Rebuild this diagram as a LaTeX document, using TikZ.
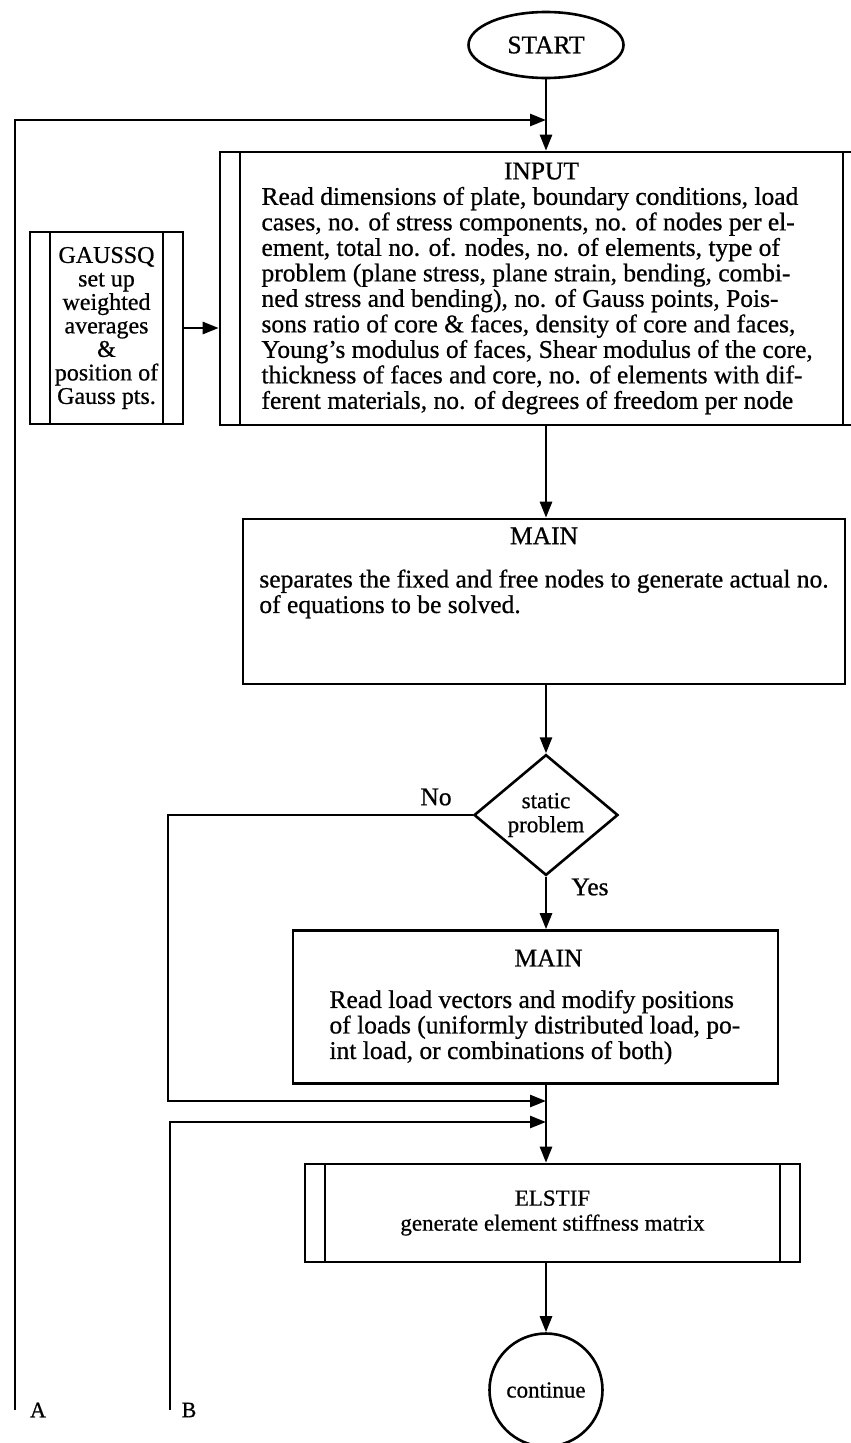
\documentclass[tikz,border=0pt]{standalone}
\usepackage{fontspec}
\setmainfont[FakeBold=0.7]{Liberation Serif}
\usetikzlibrary{shapes.geometric,arrows.meta,positioning}

\begin{document}
\begin{tikzpicture}[->,>={Triangle[length=16pt,width=12pt]},x=1pt,y=-1pt,
		line width=2.6pt,font=\fontsize{25.5}{25.5}\selectfont,
		end node/.style={ellipse,draw,inner sep=0pt},
		proc box/.style={rectangle,draw,inner sep=0pt,align=left},
		sub box/.style={proc box,path picture={
				\draw[-] ([xshift=20pt]path picture bounding box.north west) -- ([xshift=20pt]path picture bounding box.south west)
				([xshift=-20pt]path picture bounding box.north east) -- ([xshift=-20pt]path picture bounding box.south east);}},
		decision/.style={diamond,draw,inner sep=0pt,align=center,font=\fontsize{23}{24}\selectfont}]

		\useasboundingbox (0,0) rectangle (851,1443);

		\node[end node, minimum width=155pt, minimum height=66pt] (start) at (546,45) {START};
		\node[sub box, minimum width=643pt, minimum height=273pt] (input) at (541.5,288.5) {\makebox[560pt]{INPUT}\\
			Read dimensions of plate, boundary conditions, load\\
			cases, no. of stress components, no. of nodes per el-\\
			ement, total no. of. nodes, no. of elements, type of\\
			problem (plane stress, plane strain, bending, combi-\\
			ned stress and bending), no. of Gauss points, Pois-\\
			sons ratio of core \& faces, density of core and faces,\\
			Young's modulus of faces, Shear modulus of the core,\\
			thickness of faces and core, no. of elements with dif-\\
			ferent materials, no. of degrees of freedom per node};
		\node[sub box, align=center, minimum width=153pt, minimum height=192pt,
			font=\fontsize{24}{23.5}\selectfont] (gauss) at (106.5,328) {GAUSSQ\\ set up\\ weighted\\ averages\\ \&\\ position of\\ Gauss pts.};
		\node[proc box, minimum width=602pt, minimum height=165pt,
			label={[anchor=north,yshift=-5pt]north:MAIN}] (main1) at (544,601.5) {separates the fixed and free nodes to generate actual no.\\
			of equations to be solved.\\[-5pt]\mbox{}};
		\node[decision, minimum width=144pt, minimum height=102pt] (test) at (546,815) {static\\ problem};
		\node[proc box, minimum width=485pt, minimum height=153pt] (main2) at (535.5,1007) {\makebox[412pt]{\hspace{26pt}MAIN}\\[16pt]
			Read load vectors and modify positions\\
			of loads (uniformly distributed load, po-\\
			int load, or combinations of both)};
		\node[sub box, align=center, minimum width=495pt, minimum height=98pt,
			font=\fontsize{23}{25}\selectfont] (elstif) at (552.5,1213) {ELSTIF\\ generate element stiffness matrix};
		\node[end node, minimum width=113pt, minimum height=113pt,
			font=\fontsize{23}{24}\selectfont] (cont) at (546,1390) {continue};

		\node (no) at (436,797) {No};
		\node (yes) at (590,887) {Yes};
		\node[font=\fontsize{22}{22}\selectfont] (alabel) at (38,1410) {A};
		\node[font=\fontsize{22}{22}\selectfont] (blabel) at (189,1410) {B};

		\coordinate (aend) at (15,1410);
		\coordinate (ajoin) at (546,120);
		\coordinate (bend) at (170,1410);
		\coordinate (bjoin) at (546,1122);
		\coordinate (noline) at (168,1101);

		\path
		(start) edge (start |- input.north)
		(gauss.east) edge (gauss.east -| input.west)
		(start |- input.south) edge (start |- main1.north)
		(start |- main1.south) edge (test.north)
		(test.south) edge (start |- main2.north)
		(start |- main2.south) edge (start |- elstif.north)
		(start |- elstif.south) edge (cont.north);

		\draw (aend) |- (ajoin);
		\draw (test.west) -| (noline) -- (start |- noline);
		\draw (bend) |- (bjoin);
		\end{tikzpicture}
\end{document}
